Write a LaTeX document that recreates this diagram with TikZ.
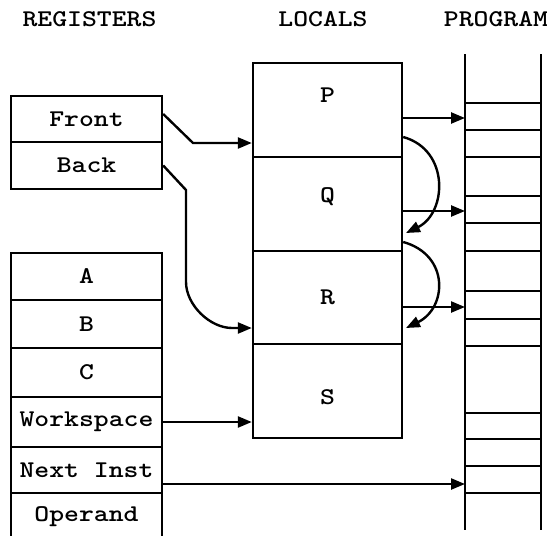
\documentclass[tikz,border=0pt]{standalone}
\usepackage{fontspec}
\usetikzlibrary{arrows.meta}
\newfontfamily\twfont{lmmonolt10-bold}[Extension=.otf,FakeStretch=1.18]
\newcommand{\regfont}{\twfont\fontsize{24}{28}\selectfont}
\tikzset{
  reg/.style={draw, minimum width=151pt, inner sep=0pt, font=\regfont},
  loc/.style={draw, minimum width=149pt, minimum height=94pt, inner sep=0pt},
  txt/.style={inner sep=0pt, font=\regfont},
  rung/.style={line width=2.1pt},
}
\begin{document}
\begin{tikzpicture}[x=1pt,y=-1pt,line width=2.4pt,>={Triangle[length=14pt,width=11pt]}]
\useasboundingbox (0,0) rectangle (547,536);
% titles
\node[txt] (tReg) at (89.5,19) {REGISTERS};
\node[txt] (tLoc) at (323,19) {LOCALS};
\node[txt] (tProg) at (496,19) {PROGRAM};
% registers
\node[reg, minimum height=46pt] (Front) at (86.5,119) {Front};
\node[reg, minimum height=47pt] (Back) at (86.5,165.5) {Back};
\node[reg, minimum height=47pt] (A) at (86.5,276.5) {A};
\node[reg, minimum height=48pt] (B) at (86.5,324) {B};
\node[reg, minimum height=49pt] (C) at (86.5,372.5) {C};
\node[reg, minimum height=50pt] (W) at (86.5,422) {Workspace};
\node[reg, minimum height=46pt] (N) at (86.5,470) {Next Inst};
\node[txt] (O) at (86.5,517) {Operand};
\draw (11,537) -- (11,493) -- (162,493) -- (162,537);
% locals
\node[loc] (P) at (327.5,110) {};
\node[loc] (Q) at (327.5,204) {};
\node[loc, minimum height=93pt] (R) at (327.5,297.5) {};
\node[loc] (S) at (327.5,391) {};
\node[txt] (Pl) at (327.5,95) {P};
\node[txt] (Ql) at (327.5,197) {Q};
\node[txt] (Rl) at (327.5,297) {R};
\node[txt] (Sl) at (327.5,397) {S};
% program
\draw (465,54) -- (465,530);
\draw (541,54) -- (541,530);
\foreach \y in {103,130,157,196,223,251,291,319,346,413,439,466,493}
  \draw[rung] (465,\y) -- (541,\y);
\coordinate (pg1) at (465,118);
\coordinate (pg2) at (465,211);
\coordinate (pg3) at (465,307);
\coordinate (pg4) at (465,484);
% arrows to program
\draw[->] (P.east |- pg1) -- (pg1);
\draw[->] (Q.east |- pg2) -- (pg2);
\draw[->] (R.east |- pg3) -- (pg3);
\draw[->] (N.east |- pg4) -- (pg4);
% curved links
\coordinate (c1) at (402,137);
\coordinate (c1e) at (406,233);
\coordinate (c2) at (402,242);
\coordinate (c2e) at (406,328);
\draw[->] (P.east |- c1) .. controls (450,150) and (447,213) .. (c1e);
\draw[->] (Q.east |- c2) .. controls (450,255) and (447,308) .. (c2e);
% front
\coordinate (f1) at (193,143);
\draw[->] ([yshift=5pt]Front.east) -- (f1) -- (P.west |- f1);
% back
\coordinate (b1) at (186,190);
\coordinate (b2) at (186,282);
\coordinate (b3) at (232,328);
\draw[->] (Back.east) -- (b1) -- (b2) .. controls (186,305) and (210,328) .. (b3) -- (R.west |- b3);
% workspace
\draw[->] (W.east) -- (S.west |- W.east);
\end{tikzpicture}
\end{document}
